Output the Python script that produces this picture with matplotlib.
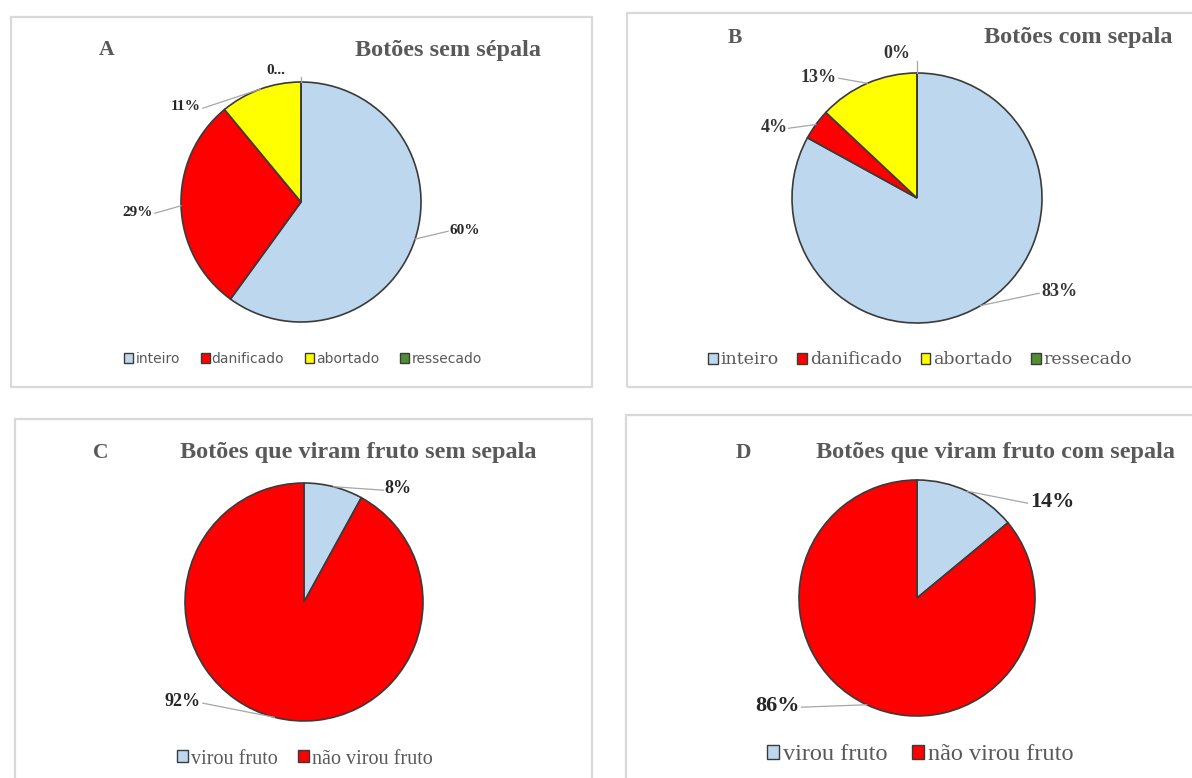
import matplotlib
matplotlib.use("Agg")
import matplotlib.pyplot as plt
from matplotlib.patches import Rectangle
import numpy as np

W, H = 1192, 778
SERIF = ["Liberation Serif", "DejaVu Serif"]
WIDE_SERIF = ["DejaVu Serif"]
SANS = ["DejaVu Sans"]

# ---- data ----
cats_botoes = ["inteiro", "danificado", "abortado", "ressecado"]
sem_sepala = [60, 29, 11, 0]
com_sepala = [83, 4, 13, 0]

cats_fruto = ["virou fruto", "não virou fruto"]
fruto_sem_sepala = [8, 92]
fruto_com_sepala = [14, 86]

colors_botoes = ["#bdd7ee", "#ff0000", "#ffff00", "#4f8f2f"]
colors_fruto = ["#bdd7ee", "#ff0000"]

TITLE_GRAY = "#595959"
EDGE = "#3a3a3a"

# ---- layout of the four panels (pixel units) ----
panels = [
    dict(letter="A", title="Botões sem sépala", cats=cats_botoes, vals=sem_sepala,
         colors=colors_botoes, box=(11, 17, 592, 387), center=(301, 202), R=120,
         letter_xy=(107, 50), title_xy=(448, 50),
         label_xy=[(465, 230), (138, 212), (186, 107), (276, 70)],
         label_fmt=["{}%", "{}%", "{}%", "{}..."], label_size=11, label_color="#262626",
         legend_xy=(303, 359), legend_size=10, legend_font=SANS, legend_colsp=1.5,
         legend_handle=0.65),
    dict(letter="B", title="Botões com sepala", cats=cats_botoes, vals=com_sepala,
         colors=colors_botoes, box=(627, 13, 1210, 387), center=(917, 198), R=125,
         letter_xy=(735, 38), title_xy=(1078, 38),
         label_xy=[(1059, 292), (774, 127), (819, 77), (897, 53)],
         label_fmt=["{}%"] * 4, label_size=13, label_color="#333333",
         legend_xy=(920, 360), legend_size=12.5, legend_font=WIDE_SERIF, legend_colsp=1.1,
         legend_handle=0.55),
    dict(letter="C", title="Botões que viram fruto sem sepala", cats=cats_fruto,
         vals=fruto_sem_sepala, colors=colors_fruto, box=(15, 419, 592, 800),
         center=(304, 602), R=119, letter_xy=(101, 453), title_xy=(358, 453),
         label_xy=[(398, 489), (183, 702)],
         label_fmt=["{}%"] * 2, label_size=13, label_color="#262626",
         legend_xy=(305, 759), legend_size=14.5, legend_font=SERIF, legend_colsp=1.0,
         legend_handle=0.55),
    dict(letter="D", title="Botões que viram fruto com sepala", cats=cats_fruto,
         vals=fruto_com_sepala, colors=colors_fruto, box=(626, 415, 1210, 800),
         center=(917, 598), R=118, letter_xy=(743, 453), title_xy=(995, 453),
         label_xy=[(1052, 502), (777, 706)],
         label_fmt=["{}%"] * 2, label_size=16, label_color="#262626",
         legend_xy=(920, 755), legend_size=17.5, legend_font=SERIF, legend_colsp=1.0,
         legend_handle=0.52),
]

fig = plt.figure(figsize=(W / 100, H / 100), dpi=100)
fig.patch.set_facecolor("white")

for p in panels:
    x0, y0, x1, y1 = p["box"]
    cx, cy = p["center"]
    R = p["R"]

    # panel frame
    fig.patches.append(Rectangle((x0 / W, 1 - y1 / H), (x1 - x0) / W, (y1 - y0) / H,
                                 transform=fig.transFigure, facecolor="none",
                                 edgecolor="#d9d9d9", linewidth=1.6, zorder=-1))

    ax = fig.add_axes([x0 / W, 1 - y1 / H, (x1 - x0) / W, (y1 - y0) / H])

    def to_data(x, y, cx=cx, cy=cy, R=R):
        return ((x - cx) / R, (cy - y) / R)

    wedges, _ = ax.pie(p["vals"], colors=p["colors"], startangle=90, counterclock=False,
                       radius=1.0, center=(0, 0), frame=True,
                       wedgeprops=dict(edgecolor=EDGE, linewidth=1.2))
    ax.set_xlim((x0 - cx) / R, (x1 - cx) / R)
    ax.set_ylim((cy - y1) / R, (cy - y0) / R)
    ax.axis("off")

    # data labels with leader lines
    total = float(sum(p["vals"]))
    start = 90.0
    for v, fmt, (lx, ly) in zip(p["vals"], p["label_fmt"], p["label_xy"]):
        sweep = 360.0 * v / total
        mid = np.deg2rad(start - sweep / 2)
        start -= sweep
        ex, ey = np.cos(mid), np.sin(mid)
        tx, ty = to_data(lx, ly)
        text = fmt.format(v)
        half = (4.6 * len(text) + 3) * p["label_size"] / 11 / R
        endx = tx - half if tx > ex else tx + half
        if abs(tx - ex) < 0.25:
            endx = ex
            endy = ty - 0.06
        else:
            endy = ty - 0.01
        ax.plot([ex, endx], [ey, endy], color="#a6a6a6", lw=0.9, zorder=1)
        ax.text(tx, ty, text, ha="center", va="center", fontsize=p["label_size"],
                fontweight="bold", family=SERIF, color=p["label_color"])

    # panel letter and title
    lx, ly = to_data(*p["letter_xy"])
    ax.text(lx, ly, p["letter"], ha="center", va="center", fontsize=15.5,
            fontweight="bold", family=SERIF, color=TITLE_GRAY)
    tx, ty = to_data(*p["title_xy"])
    ax.text(tx, ty, p["title"], ha="center", va="center", fontsize=17.5,
            fontweight="bold", family=SERIF, color=TITLE_GRAY)

    # legend
    gx, gy = to_data(*p["legend_xy"])
    handles = [Rectangle((0, 0), 1, 1, facecolor=c, edgecolor=EDGE, linewidth=1.0)
               for c in p["colors"]]
    ax.legend(handles, p["cats"], loc="center", bbox_to_anchor=(gx, gy),
              bbox_transform=ax.transData, ncol=len(p["cats"]), frameon=False,
              handlelength=p["legend_handle"], handleheight=p["legend_handle"],
              handletextpad=0.15, columnspacing=p["legend_colsp"], borderpad=0,
              prop=dict(family=p["legend_font"], size=p["legend_size"]),
              labelcolor=TITLE_GRAY)

fig.savefig("out.png", dpi=100, facecolor="white")
